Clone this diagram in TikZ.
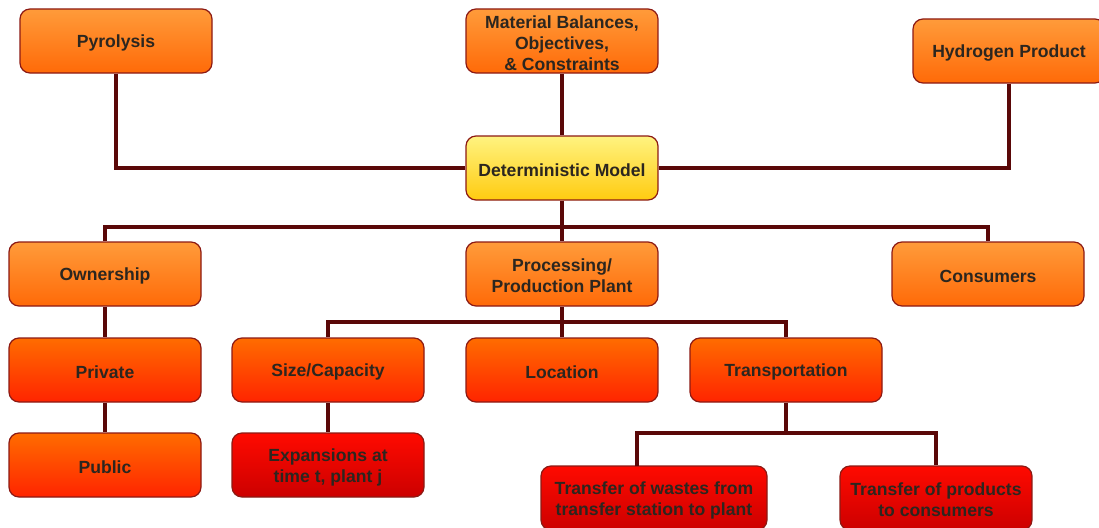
\documentclass[tikz,border=0pt]{standalone}
\usepackage{fontspec}
\setmainfont{Liberation Sans}
\definecolor{orTop}{HTML}{FF9B3A}
\definecolor{orBot}{HTML}{FF6A08}
\definecolor{roTop}{HTML}{FF6C00}
\definecolor{roBot}{HTML}{FF2400}
\definecolor{rdTop}{HTML}{FF0A00}
\definecolor{rdBot}{HTML}{CC0000}
\definecolor{ylTop}{HTML}{FFF380}
\definecolor{ylBot}{HTML}{FFCB10}
\definecolor{boxedge}{HTML}{8C1A14}
\definecolor{linkcol}{HTML}{5A0808}
\definecolor{textcol}{HTML}{2C261F}
\tikzset{
  box/.style={rounded corners=10pt, draw=boxedge, line width=1.2pt,
    minimum width=192pt, minimum height=64pt, inner sep=0pt},
  boxtext/.style={inner sep=0pt, align=center,
    font=\fontsize{17.6}{21}\selectfont\bfseries, text=textcol},
  lvlone/.style={box, top color=orTop, bottom color=orBot},
  lvltwo/.style={box, top color=roTop, bottom color=roBot},
  lvlthree/.style={box, top color=rdTop, bottom color=rdBot},
  core/.style={box, top color=ylTop, bottom color=ylBot},
  conn/.style={draw=linkcol, line width=4pt}
}
% box with its caption set slightly below the geometric centre
\newcommand\chartbox[4]{%
  \node[#1] (#2) at (#3) {};
  \node[boxtext] (#2-text) at ([yshift=-2pt]#2.center) {#4};}
\begin{document}
\begin{tikzpicture}[x=1pt,y=-1pt]
\useasboundingbox (0,0) rectangle (1099,527);
% top row
\chartbox{lvlone}{pyro}{116,41}{Pyrolysis}
\chartbox{lvlone}{mat}{562,41}{Material Balances,\\Objectives,\\\& Constraints}
\chartbox{lvlone}{hyd}{1009,51}{Hydrogen Product}
\chartbox{core}{det}{562,168}{Deterministic Model}
% second row
\chartbox{lvlone}{own}{105,274}{Ownership}
\chartbox{lvlone}{proc}{562,274}{Processing/\\Production Plant}
\chartbox{lvlone}{cons}{988,274}{Consumers}
% third row
\chartbox{lvltwo}{priv}{105,370}{Private}
\chartbox{lvltwo}{size}{328,370}{Size/Capacity}
\chartbox{lvltwo}{loc}{562,370}{Location}
\chartbox{lvltwo}{trans}{786,370}{Transportation}
% fourth row
\chartbox{lvltwo}{pub}{105,465}{Public}
\chartbox{lvlthree}{exp}{328,465}{Expansions at\\time t, plant j}
\chartbox{lvlthree, minimum width=226pt}{tw}{654,498}{Transfer of wastes from\\transfer station to plant}
\chartbox{lvlthree}{tp}{936,498}{Transfer of products\\to consumers}
% connectors
\coordinate (busA) at (562,227);
\coordinate (busB) at (562,322);
\coordinate (busC) at (786,433);
\coordinate (twtop) at (637,466);
\draw[conn] (pyro.south) |- (det.west);
\draw[conn] (hyd.south) |- (det.east);
\draw[conn] (mat.south) -- (det.north);
\draw[conn] (det.south) -- (busA);
\draw[conn] (own.north) |- (busA) -| (cons.north);
\draw[conn] (busA) -- (proc.north);
\draw[conn] (proc.south) -- (loc.north);
\draw[conn] (size.north) |- (busB) -| (trans.north);
\draw[conn] (own.south) -- (priv.north);
\draw[conn] (priv.south) -- (pub.north);
\draw[conn] (size.south) -- (exp.north);
\draw[conn] (trans.south) -- (busC);
\draw[conn] (twtop) |- (busC) -| (tp.north);
\end{tikzpicture}
\end{document}
